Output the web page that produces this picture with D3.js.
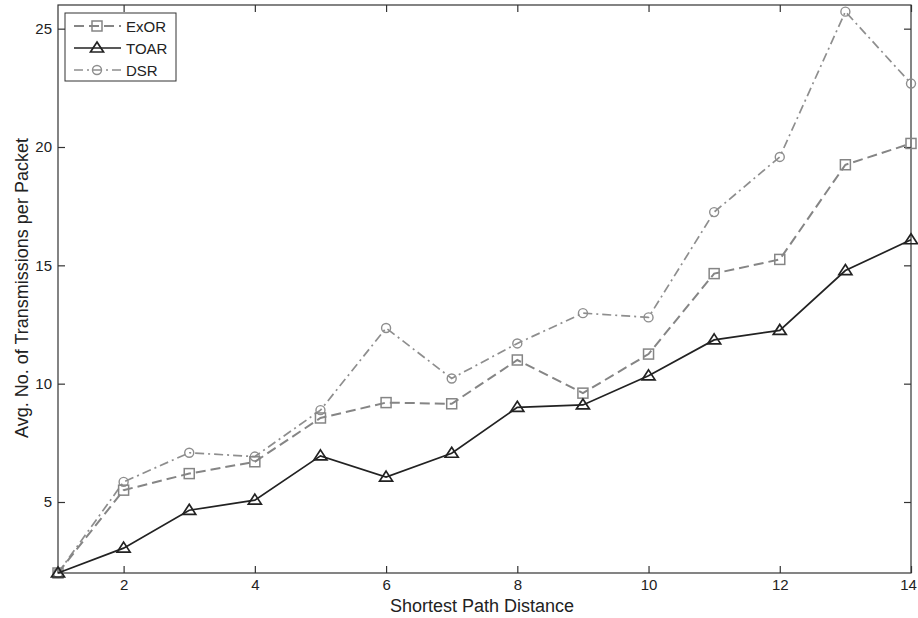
<!DOCTYPE html>
<html><head><meta charset="utf-8">
<script src="https://cdn.jsdelivr.net/npm/d3@7/dist/d3.min.js"></script>
<style>body{margin:0;background:#fff}svg{display:block}text{font-family:"Liberation Sans",Arial,sans-serif}</style>
</head><body><svg id="c" width="918" height="618"></svg>
<script>
const distances = [1,2,3,4,5,6,7,8,9,10,11,12,13,14];
const exorValues = [2,5.5,6.2,6.7,8.55,9.2,9.15,11.0,9.6,11.25,14.65,15.25,19.25,20.15];
const toarValues = [2,3.05,4.65,5.08,6.95,6.05,7.06,9.0,9.1,10.33,11.85,12.25,14.78,16.08];
const dsrValues  = [2,5.85,7.08,6.92,8.88,12.35,10.22,11.7,12.98,12.8,17.25,19.58,25.72,22.68];
const xTicks = [2,4,6,8,10,12,14];
const yTicks = [5,10,15,20,25];
const seriesNames = ["ExOR","TOAR","DSR"];

const svg = d3.select("#c");
const L=58, R=911, T=5, B=573;
const x = d3.scaleLinear().domain([1,14]).range([L,R]);
const y = d3.scaleLinear().domain([2,26]).range([B,T]);

const series = [
  {name:seriesNames[0], vals:exorValues, color:"#858585", dash:"10,5", width:2, marker:"square"},
  {name:seriesNames[1], vals:toarValues, color:"#222", dash:null, width:1.7, marker:"triangle"},
  {name:seriesNames[2], vals:dsrValues, color:"#8e8e8e", dash:"9,4,2,4", width:1.7, marker:"circle"}
];

// frame
svg.append("rect").attr("x",L).attr("y",T).attr("width",R-L).attr("height",B-T)
  .attr("fill","none").attr("stroke","#333").attr("stroke-width",1.2);

// axes with inward ticks
const axB = svg.append("g").attr("transform",`translate(0,${B})`)
  .call(d3.axisBottom(x).tickValues(xTicks).tickSizeInner(-7).tickSizeOuter(0).tickPadding(6));
const axT = svg.append("g").attr("transform",`translate(0,${T})`)
  .call(d3.axisTop(x).tickValues(xTicks).tickSizeInner(-7).tickSizeOuter(0).tickFormat(""));
const axL = svg.append("g").attr("transform",`translate(${L},0)`)
  .call(d3.axisLeft(y).tickValues(yTicks).tickSizeInner(-7).tickSizeOuter(0).tickPadding(6));
const axR = svg.append("g").attr("transform",`translate(${R},0)`)
  .call(d3.axisRight(y).tickValues(yTicks).tickSizeInner(-7).tickSizeOuter(0).tickFormat(""));
[axB,axT,axL,axR].forEach(a=>{
  a.select(".domain").remove();
  a.selectAll(".tick line").attr("stroke","#333").attr("stroke-width",1.2);
  a.selectAll("text").attr("fill","#222").style("font-size","15px").style("font-family",'"Liberation Sans",Arial,sans-serif');
});
// keep last x label inside the canvas
axB.selectAll(".tick text").filter(d=>d===14).attr("dx","-3px");

function drawMarker(g, type, cx, cy, color){
  if(type==="square"){
    g.append("rect").attr("x",cx-5).attr("y",cy-5).attr("width",10).attr("height",10)
      .attr("fill","none").attr("stroke",color).attr("stroke-width",1.5);
  } else if(type==="triangle"){
    g.append("path").attr("d",`M${cx},${cy-6}L${cx+6.5},${cy+4}L${cx-6.5},${cy+4}Z`)
      .attr("fill","none").attr("stroke",color).attr("stroke-width",1.7);
  } else {
    g.append("circle").attr("cx",cx).attr("cy",cy).attr("r",4.5)
      .attr("fill","none").attr("stroke",color).attr("stroke-width",1.4);
  }
}

const line = d3.line().x(d=>x(d[0])).y(d=>y(d[1]));
[series[2],series[0],series[1]].forEach(s=>{
  const pts = distances.map((d,i)=>[d,s.vals[i]]);
  const g = svg.append("g");
  g.append("path").datum(pts).attr("d",line).attr("fill","none")
    .attr("stroke",s.color).attr("stroke-width",s.width)
    .attr("stroke-dasharray",s.dash);
  pts.forEach(p=>drawMarker(g,s.marker,x(p[0]),y(p[1]),s.color));
});

// legend
const lg = svg.append("g");
lg.append("rect").attr("x",65).attr("y",13).attr("width",111).attr("height",68)
  .attr("fill","#fff").attr("stroke","#333").attr("stroke-width",1);
series.forEach((s,i)=>{
  const yy = 26 + i*22;
  lg.append("line").attr("x1",74).attr("x2",121).attr("y1",yy).attr("y2",yy)
    .attr("stroke",s.color).attr("stroke-width",s.width).attr("stroke-dasharray",s.dash);
  drawMarker(lg,s.marker,97,yy,s.color);
  lg.append("text").attr("x",126).attr("y",yy+5.5).text(s.name)
    .style("font-size","15px").attr("fill","#222");
});

// axis labels
svg.append("text").attr("x",482).attr("y",612).attr("text-anchor","middle")
  .style("font-size","18px").attr("fill","#222").text("Shortest Path Distance");
svg.append("text").attr("transform",`translate(28,288) rotate(-90)`)
  .attr("text-anchor","middle").style("font-size","18px").attr("fill","#222")
  .text("Avg. No. of Transmissions per Packet");
</script></body></html>
